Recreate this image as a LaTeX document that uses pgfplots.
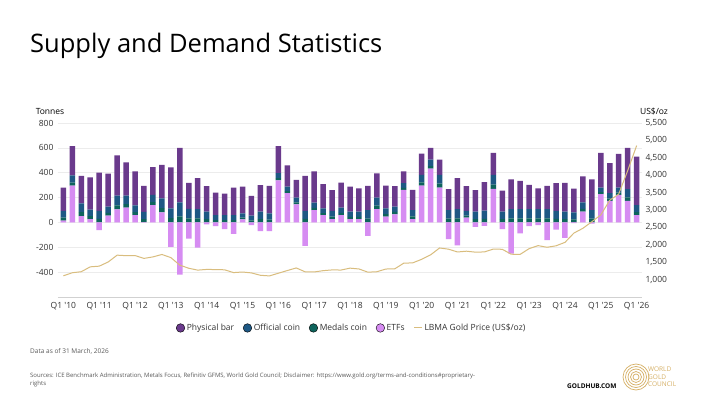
\documentclass[border=0pt]{standalone}
\usepackage{fontspec}
\setmainfont{Open Sans}
\usepackage{pgfplots}
\usepackage{pgfplotstable}
\pgfplotsset{compat=1.18}
\definecolor{cbar}{RGB}{106,58,140}
\definecolor{coff}{RGB}{30,88,132}
\definecolor{cmed}{RGB}{14,100,92}
\definecolor{cetf}{RGB}{214,140,242}
\definecolor{clbma}{RGB}{217,189,126}
\definecolor{cgold}{RGB}{214,176,102}
\definecolor{ctxt}{RGB}{51,51,51}
\definecolor{cgrid}{RGB}{236,236,236}
\newcommand{\q}[1]{Q1 \textquotesingle#1}

\pgfplotstableread{
x bar off med etf price
0 189 54 23 15 1109
1 235 57 24 297 1197
2 221 72 31 51 1227
3 259 53 23 27 1367
4 308 64 28 -62 1386
5 265 51 22 54 1506
6 324 78 33 105 1702
7 267 68 29 119 1688
8 272 55 24 59 1691
9 211 57 24 3 1609
10 224 57 24 140 1652
11 270 79 34 81 1722
12 330 79 34 -197 1632
13 437 113 49 -420 1415
14 209 77 33 -130 1326
15 248 76 32 -202 1272
16 206 60 26 -15 1293
17 181 41 18 -30 1288
18 173 41 18 -54 1282
19 222 41 18 -92 1201
20 216 34 14 25 1218
21 159 38 16 -22 1192
22 214 60 26 -70 1124
23 221 51 22 -70 1106
24 216 41 18 338 1183
25 170 38 16 235 1260
26 143 38 16 146 1335
27 283 64 28 -189 1222
28 251 41 18 100 1219
29 195 38 16 59 1257
30 167 46 19 27 1278
31 202 42 18 59 1275
32 203 41 18 27 1329
33 189 41 18 27 1306
34 194 70 30 -108 1213
35 194 64 28 108 1226
36 184 47 20 46 1304
37 165 43 19 65 1310
38 94 38 16 262 1472
39 162 51 22 27 1481
40 170 60 26 297 1583
41 94 51 22 432 1711
42 122 71 31 281 1909
43 167 70 30 -135 1874
44 248 76 32 -184 1794
45 200 38 16 38 1816
46 173 60 26 -35 1789
47 230 66 28 -27 1795
48 176 79 34 270 1877
49 170 60 26 -54 1871
50 238 76 32 -251 1729
51 227 76 32 -89 1726
52 194 76 32 -30 1890
53 167 76 32 -22 1976
54 186 76 32 -143 1929
55 224 64 28 -57 1971
56 233 60 26 -124 2070
57 192 57 24 -6 2338
58 208 53 23 86 2474
59 246 70 30 -10 2663
60 278 38 16 227 2860
61 243 43 19 173 3280
62 270 42 18 221 3457
63 332 66 28 173 4130
64 389 57 24 59 4850
}\data

\pgfplotsset{
  common/.style={
    at={(58pt,103pt)}, anchor=south west, scale only axis,
    width=584pt, height=174pt,
    xmin=-0.6, xmax=64.6,
    axis line style={draw=none},
    major tick length=0pt,
    tick label style={font=\fontsize{8.5}{10}\selectfont, text=ctxt},
    /pgf/number format/assume math mode=true,
  }
}

\begin{document}
\begin{tikzpicture}[x=1pt,y=1pt]
\path[fill=white] (0,0) rectangle (710,400);
\node[anchor=base west, inner sep=0, font=\fontsize{25.5}{30}\selectfont, text=black] at (30,348) {Supply and Demand Statistics};
\node[anchor=center, inner sep=0, font=\fontsize{8.5}{10}\selectfont, text=black] at (50,288) {Tonnes};
\node[anchor=center, inner sep=0, font=\fontsize{8.5}{10}\selectfont, text=black] at (654,288) {US\$/oz};

% bars (positive stack)
\begin{axis}[common,
  ymin=-600, ymax=800,
  ybar stacked, bar width=5.5pt,
  ytick={-400,-200,...,800},
  ymajorgrids, grid style={draw=cgrid, line width=0.6pt},
  xtick={0,4,...,64},
  xticklabels={\q{10},\q{11},\q{12},\q{13},\q{14},\q{15},\q{16},\q{17},\q{18},\q{19},\q{20},\q{21},\q{22},\q{23},\q{24},\q{25},\q{26}},
  xticklabel style={yshift=-2pt},
  yticklabel style={xshift=-1pt},
]
\addplot[fill=cetf, draw=none] table[x=x, y expr={max(\thisrow{etf},0)}] {\data};
\addplot[fill=cmed, draw=none] table[x=x, y=med] {\data};
\addplot[fill=coff, draw=none] table[x=x, y=off] {\data};
\addplot[fill=cbar, draw=none] table[x=x, y=bar] {\data};
\draw[draw=black!18, line width=0.8pt] (axis cs:-0.6,-600) -- (axis cs:64.6,-600);
\end{axis}

% negative ETF flows
\begin{axis}[common, hide axis,
  ymin=-600, ymax=800,
  ybar, bar width=5.5pt, bar shift=0pt,
]
\addplot[fill=cetf, draw=none] table[x=x, y expr={min(\thisrow{etf},0)}] {\data};
\end{axis}

% price line, right axis, legend
\begin{axis}[common,
  ymin=500, ymax=5500,
  xtick=\empty,
  ytick={1000,1500,...,5500},
  yticklabel pos=right,
  yticklabel style={anchor=west, xshift=0pt},
  /pgf/number format/1000 sep={,},
  legend columns=5,
  legend cell align=left,
  legend style={at={(0.503,-0.178)}, anchor=center, draw=none, fill=none,
    font=\fontsize{8.5}{10}\selectfont, text=ctxt,
    /tikz/every even column/.append style={column sep=7pt}},
]
\addplot[clbma, line width=1pt, forget plot] table[x=x, y=price] {\data};
\addlegendimage{only marks, mark=*, mark size=4.3pt, mark options={draw=none, fill=cbar}}
\addlegendentry{Physical bar}
\addlegendimage{only marks, mark=*, mark size=4.3pt, mark options={draw=none, fill=coff}}
\addlegendentry{Official coin}
\addlegendimage{only marks, mark=*, mark size=4.3pt, mark options={draw=none, fill=cmed}}
\addlegendentry{Medals coin}
\addlegendimage{only marks, mark=*, mark size=4.3pt, mark options={draw=none, fill=cetf}}
\addlegendentry{ETFs}
\addlegendimage{legend image code/.code={\draw[clbma, line width=1pt] (0pt,0pt) -- (8pt,0pt);}}
\addlegendentry{LBMA Gold Price (US\$/oz)}
\end{axis}

% footer
\node[anchor=west, inner sep=0, font=\fontsize{6.5}{8}\selectfont, text=black!65] at (30,49) {Data as of 31 March, 2026};
\node[anchor=north west, inner sep=0, align=left, font=\fontsize{6}{8}\selectfont, text=black!65] at (30,27) {Sources: ICE Benchmark Administration, Metals Focus, Refinitiv GFMS, World Gold Council; Disclaimer: https://www.gold.org/terms-and-conditions\#proprietary-\\rights};
\node[anchor=west, inner sep=0, font=\fontsize{6.5}{8}\selectfont\bfseries, text=black] at (567,14) {GOLDHUB.COM};
\foreach \r in {3,5.5,8,10.5,13} \draw[cgold, line width=0.7pt] (636,23) circle (\r);
\node[anchor=west, inner sep=0, align=left, font=\fontsize{6.5}{7.6}\selectfont, text=cgold] at (648,23) {WORLD\\GOLD\\COUNCIL};
\end{tikzpicture}
\end{document}
